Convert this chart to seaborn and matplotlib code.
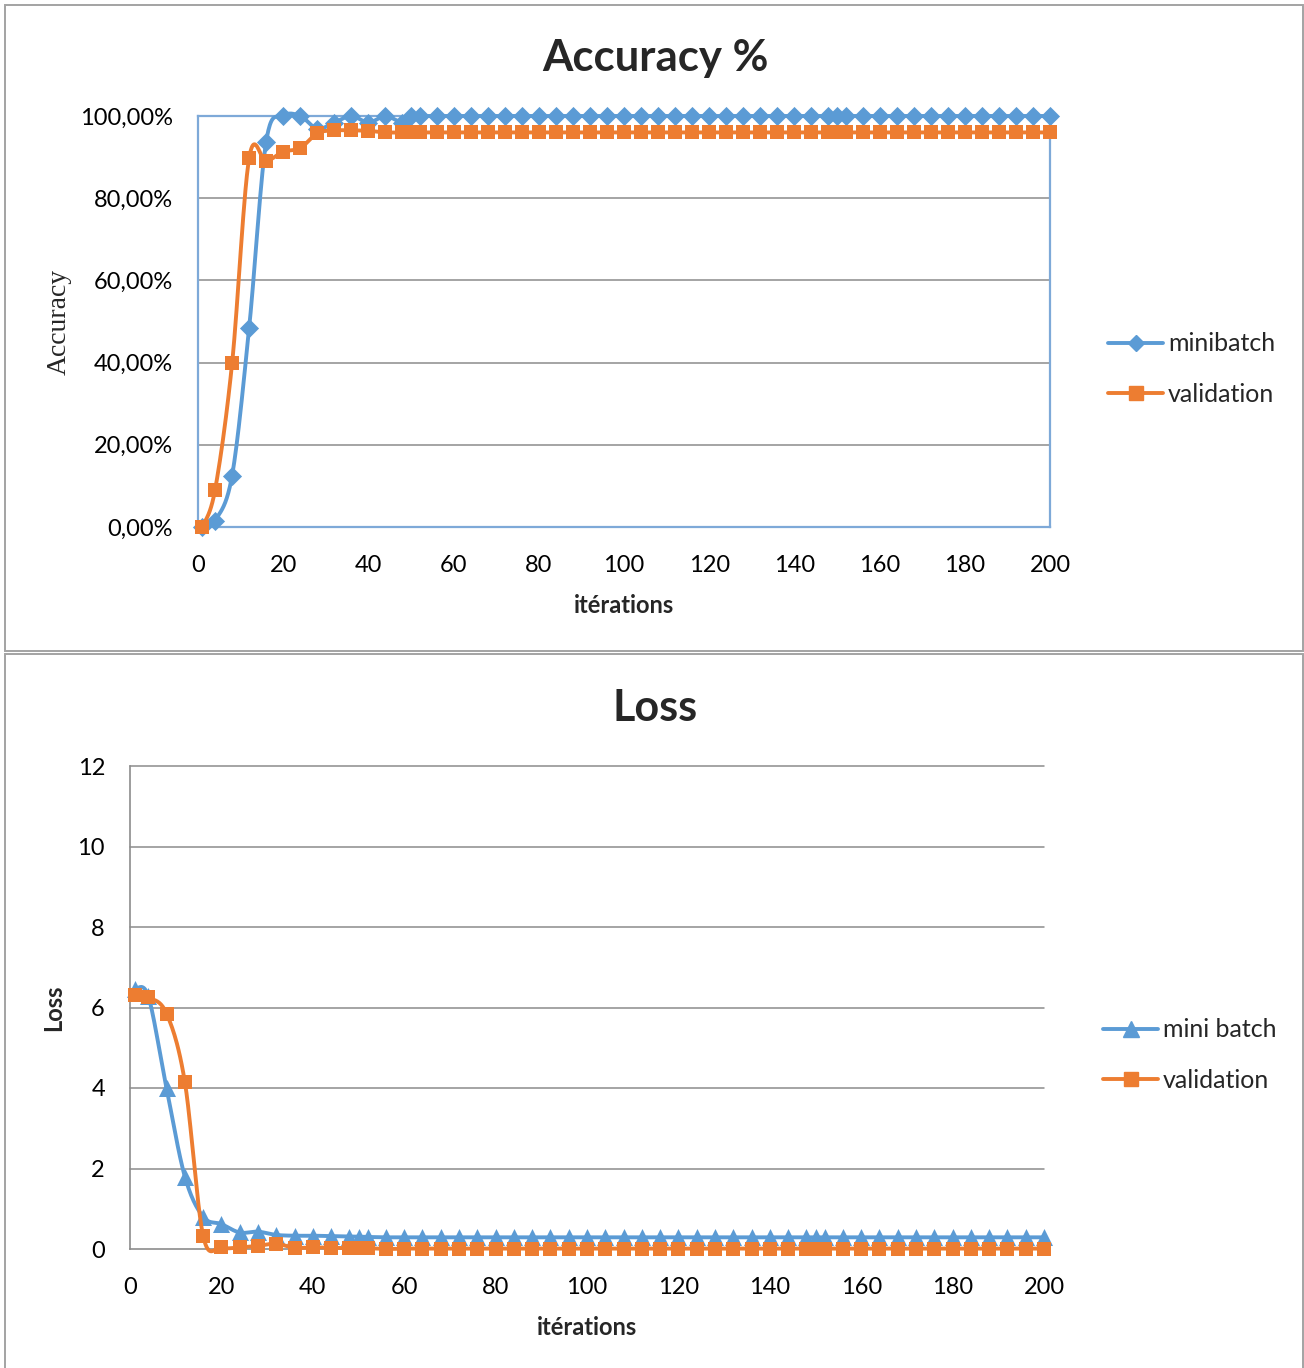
import numpy as np
import matplotlib
matplotlib.use("Agg")
import matplotlib.pyplot as plt
import seaborn as sns
from matplotlib.lines import Line2D
from matplotlib.patches import Rectangle
from matplotlib.ticker import FuncFormatter

# ---------------------------------------------------------------- data
iterations = [1] + list(range(4, 49, 4)) + [50] + list(range(52, 149, 4)) + [150] + list(range(152, 201, 4))

acc_minibatch = ([0.0, 0.0156, 0.125, 0.484, 0.9375, 1.0, 1.0, 0.969, 0.984, 1.0, 0.984, 1.0, 0.984, 1.0]
                 + [1.0] * 39)
acc_validation = ([0.0, 0.09, 0.398, 0.897, 0.89, 0.913, 0.922, 0.958, 0.965, 0.965, 0.964, 0.96, 0.96, 0.96]
                  + [0.96] * 39)

loss_minibatch = ([6.45, 6.28, 3.99, 1.80, 0.80, 0.62, 0.41, 0.43, 0.35, 0.33, 0.33, 0.32, 0.31, 0.31, 0.30]
                  + [0.29] * 38)
loss_validation = ([6.30, 6.25, 5.85, 4.15, 0.33, 0.04, 0.04, 0.08, 0.13, 0.03, 0.04, 0.03, 0.02, 0.02, 0.02, 0.0]
                   + [0.01] * 37)

y_ticks_acc = [0.0, 0.2, 0.4, 0.6, 0.8, 1.0]
y_ticks_loss = [0, 2, 4, 6, 8, 10, 12]
x_ticks = list(range(0, 201, 20))

BLUE = "#5B9BD5"
ORANGE = "#ED7D31"
GRID = "#8C8C8C"
FRAME = "#7EA9D8"

sns.set_theme(style="white")
plt.rcParams["font.family"] = ["Lato", "DejaVu Sans"]


def smooth(xs, ys, n=24):
    """Excel-style smoothed line: cubic Bezier segments with Catmull-Rom tangents."""
    p = np.column_stack([np.asarray(xs, float), np.asarray(ys, float)])
    m = len(p)
    t = np.linspace(0, 1, n)[:, None]
    out = []
    for i in range(m - 1):
        p0 = p[max(i - 1, 0)]
        p1 = p[i]
        p2 = p[i + 1]
        p3 = p[min(i + 2, m - 1)]
        c1 = p1 + (p2 - p0) / 6.0
        c2 = p2 - (p3 - p1) / 6.0
        seg = ((1 - t) ** 3) * p1 + 3 * ((1 - t) ** 2) * t * c1 + 3 * (1 - t) * t ** 2 * c2 + t ** 3 * p2
        out.append(seg if i == 0 else seg[1:])
    seg = np.vstack(out)
    return seg[:, 0], seg[:, 1]


def draw_series(ax, xs, ys, color, marker, msize, z):
    sx, sy = smooth(xs, ys)
    sns.lineplot(x=sx, y=sy, ax=ax, color=color, lw=2.8, sort=False, estimator=None,
                 zorder=z, clip_on=False)
    sns.scatterplot(x=xs, y=ys, ax=ax, color=color, marker=marker, s=msize, linewidth=0,
                    zorder=z + 0.5, clip_on=False)


W, H = 1304, 1368
fig = plt.figure(figsize=(W / 100, H / 100), dpi=100)


def fx(px):
    return px / W


def fy(py):
    return 1 - py / H


# panel frames
fig.add_artist(Rectangle((fx(5), fy(651)), fx(1298), (651 - 5) / H, transform=fig.transFigure,
                         fill=False, ec="#A3A3A3", lw=1.4))
fig.add_artist(Rectangle((fx(5), fy(1380)), fx(1298), (1380 - 654) / H, transform=fig.transFigure,
                         fill=False, ec="#A3A3A3", lw=1.4))

# ---------------------------------------------------------------- accuracy
ax1 = fig.add_axes([fx(198), fy(527), fx(1050 - 198), (527 - 116) / H])
ax1.set_xlim(0, 200)
ax1.set_ylim(0, 1)
ax1.set_yticks(y_ticks_acc)
ax1.set_xticks(x_ticks)
for yv in y_ticks_acc[1:-1]:
    ax1.axhline(yv, color=GRID, lw=1.1, zorder=1)
for s in ax1.spines.values():
    s.set_color(FRAME)
    s.set_linewidth(1.6)
ax1.yaxis.set_major_formatter(FuncFormatter(lambda v, _: f"{v * 100:.2f}%".replace(".", ",")))
ax1.tick_params(axis="both", length=0, labelsize=17, colors="black")
ax1.tick_params(axis="y", pad=18)
ax1.tick_params(axis="x", pad=20)

draw_series(ax1, iterations, acc_minibatch, BLUE, "D", 95, 3)
draw_series(ax1, iterations, acc_validation, ORANGE, "s", 92, 4)

ax1.set_xlabel("itérations", fontsize=17, fontweight="bold", labelpad=13)
ax1.set_ylabel("Accuracy", fontsize=20, family=["Liberation Serif", "DejaVu Serif"])
ax1.yaxis.set_label_coords((72 - 198) / (1050 - 198), 0.5)
fig.text(fx(655), fy(58), "Accuracy %", ha="center", va="center", fontsize=31.5, fontweight="bold")

h1 = [Line2D([0], [0], color=BLUE, lw=2.8, marker="D", markersize=8.5),
      Line2D([0], [0], color=ORANGE, lw=2.8, marker="s", markersize=9.5)]
fig.legend(h1, ["minibatch", "validation"], loc="center left",
           bbox_to_anchor=(fx(1108), fy(369)), frameon=False, fontsize=18,
           handlelength=2.2, handletextpad=0.2, labelspacing=1.1, borderpad=0, borderaxespad=0)

# ---------------------------------------------------------------- loss
ax2 = fig.add_axes([fx(130), fy(1249), fx(1044 - 130), (1249 - 766) / H])
ax2.set_xlim(0, 200)
ax2.set_ylim(0, 12)
ax2.set_yticks(y_ticks_loss)
ax2.set_xticks(x_ticks)
for yv in y_ticks_loss[1:]:
    ax2.axhline(yv, color=GRID, lw=1.1, zorder=1, clip_on=False)
ax2.spines["top"].set_visible(False)
ax2.spines["right"].set_visible(False)
for k in ("left", "bottom"):
    ax2.spines[k].set_color(GRID)
    ax2.spines[k].set_linewidth(1.2)
ax2.tick_params(axis="both", length=0, labelsize=17, colors="black")
ax2.tick_params(axis="y", pad=18)
ax2.tick_params(axis="x", pad=20)

draw_series(ax2, iterations, loss_minibatch, BLUE, "^", 150, 3)
draw_series(ax2, iterations, loss_validation, ORANGE, "s", 92, 4)

ax2.set_xlabel("itérations", fontsize=17, fontweight="bold", labelpad=13)
ax2.set_ylabel("Loss", fontsize=17, fontweight="bold")
ax2.yaxis.set_label_coords((65 - 130) / (1044 - 130), 0.5)
fig.text(fx(655), fy(708), "Loss", ha="center", va="center", fontsize=31, fontweight="bold")

h2 = [Line2D([0], [0], color=BLUE, lw=2.8, marker="^", markersize=11),
      Line2D([0], [0], color=ORANGE, lw=2.8, marker="s", markersize=9.5)]
fig.legend(h2, ["mini batch", "validation"], loc="center left",
           bbox_to_anchor=(fx(1103), fy(1055)), frameon=False, fontsize=18,
           handlelength=2.2, handletextpad=0.2, labelspacing=1.1, borderpad=0, borderaxespad=0)

fig.savefig("out.png", dpi=100)
